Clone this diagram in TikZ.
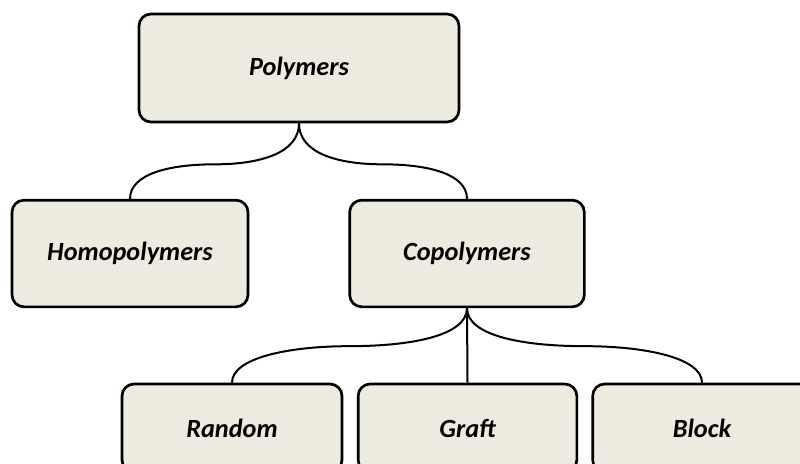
\documentclass[tikz,border=0pt]{standalone}
\usepackage{fontspec}
\setmainfont{Carlito}
\definecolor{boxfill}{HTML}{EDEAE0}

\begin{document}
\begin{tikzpicture}[x=0.75pt,y=-0.75pt,
	box/.style={draw,line width=2pt,rounded corners=9pt,fill=boxfill,minimum height=80pt,
		font=\fontsize{19.7}{24}\selectfont\bfseries\itshape},
	link/.style={line width=1.5pt}]
	\useasboundingbox (0,0) rectangle (800,464);
	% boxes
	\node[box,minimum width=240pt,minimum height=81pt](poly) at (299,68){Polymers};
	\node[box,minimum width=177pt](homo) at (130,253.5){Homopolymers};
	\node[box,minimum width=176pt](copo) at (467,253.5){Copolymers};
	\node[box,minimum width=165pt,minimum height=66pt](rand) at (232,428){Random};
	\node[box,minimum width=164pt,minimum height=66pt](graft) at (467.5,428){Graft};
	\node[box,minimum width=164pt,minimum height=66pt](block) at (702,428){Block};
	% braces
	\draw[link] (poly.south) .. controls +(0,30) and +(45,0) .. ++(-84.5,41) .. controls +(-45,0) and +(0,-25) .. (homo.north);
	\draw[link] (poly.south) .. controls +(0,30) and +(-45,0) .. ++(84,41) .. controls +(45,0) and +(0,-25) .. (copo.north);
	\draw[link] (copo.south) .. controls +(0,28) and +(60,0) .. ++(-117.5,38) .. controls +(-60,0) and +(0,-25) .. (rand.north);
	\draw[link] (copo.south) -- (graft.north);
	\draw[link] (copo.south) .. controls +(0,28) and +(-60,0) .. ++(117.5,38) .. controls +(60,0) and +(0,-25) .. (block.north);
\end{tikzpicture}
\end{document}
